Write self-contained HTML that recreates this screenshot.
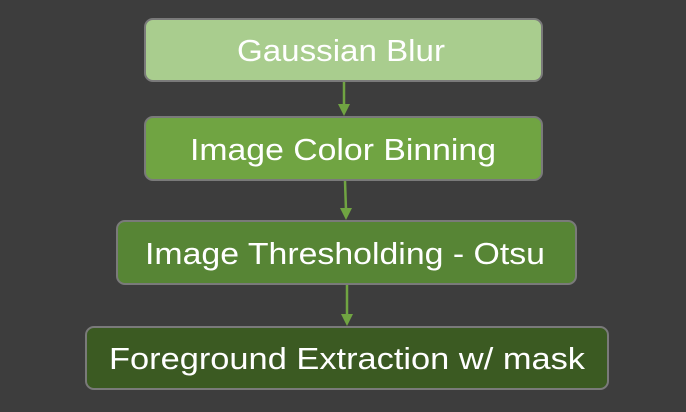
<!DOCTYPE html>
<html><head><style>html,body{margin:0;padding:0;background:#3d3d3d;}</style></head>
<body>
<svg width="686" height="412" xmlns="http://www.w3.org/2000/svg" style="display:block">
<rect width="686" height="412" fill="#3d3d3d"/>
<g stroke="#7a7a7a" stroke-width="2">
<rect x="145" y="19" width="397" height="62" rx="8" fill="#a9cd8e"/>
<rect x="145" y="117" width="397" height="63" rx="8" fill="#70a442"/>
<rect x="117" y="221" width="459" height="63" rx="8" fill="#578535"/>
<rect x="86" y="327" width="522" height="62" rx="8" fill="#3b5a22"/>
</g>
<g stroke="#70a442" stroke-width="2.5" fill="#70a442">
<line x1="344" y1="82" x2="344" y2="106"/><polygon points="338,104 350,104 344,116" stroke="none"/>
<line x1="345" y1="181" x2="346" y2="210"/><polygon points="340,208 352,208 346,220" stroke="none"/>
<line x1="347" y1="285" x2="347" y2="316"/><polygon points="341,314 353,314 347,326" stroke="none"/>
</g>
<g fill="#ffffff" font-family="Liberation Sans, sans-serif" font-size="31" text-anchor="middle">
<text x="341" y="61" textLength="208" lengthAdjust="spacingAndGlyphs">Gaussian Blur</text>
<text x="343" y="160" textLength="306" lengthAdjust="spacingAndGlyphs">Image Color Binning</text>
<text x="345" y="264" textLength="400" lengthAdjust="spacingAndGlyphs">Image Thresholding - Otsu</text>
<text x="347" y="369" textLength="476" lengthAdjust="spacingAndGlyphs">Foreground Extraction w/ mask</text>
</g>
</svg>
</body></html>
